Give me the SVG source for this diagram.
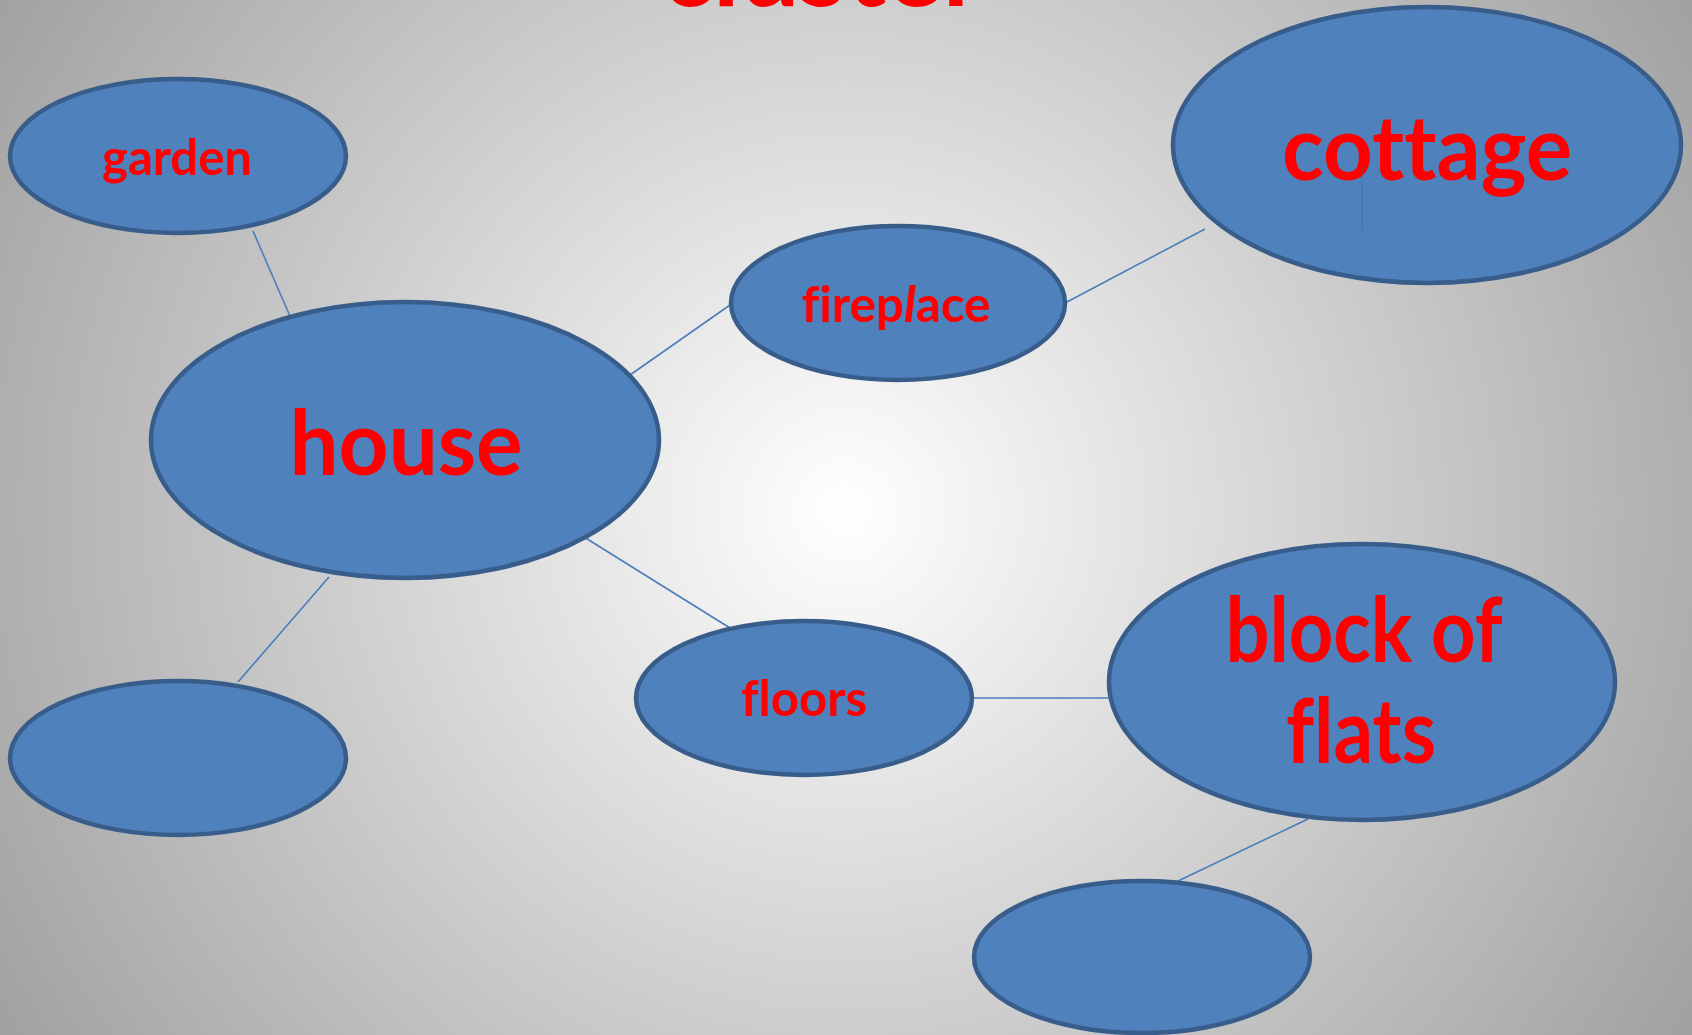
<svg xmlns="http://www.w3.org/2000/svg" width="1692" height="1035" viewBox="0 0 1692 1035">
  <defs>
    <radialGradient id="bg" gradientUnits="userSpaceOnUse" cx="845" cy="510" r="1000">
      <stop offset="0" stop-color="#ffffff"/>
      <stop offset="1" stop-color="#a0a0a0"/>
    </radialGradient>
  </defs>
  <style>
    .node { fill: #4f81bd; stroke: #385d8a; stroke-width: 4.5; }
    .lbl { font-family: Lato, "Open Sans", "Liberation Sans", sans-serif; font-weight: bold; fill: #ff0000; text-anchor: middle; font-variant-ligatures: none; font-feature-settings: "liga" 0; }
    .sm { font-size: 50px; }
    .lg { font-size: 90px; }
    .conn line { stroke: #4a7ebb; stroke-width: 1.6; }
  </style>
  <rect x="0" y="0" width="1692" height="1035" fill="url(#bg)"/>
  <g id="title">
    <text class="lbl" x="822" y="6" font-size="110" textLength="321" lengthAdjust="spacingAndGlyphs">cluster</text>
  </g>
  <g id="connectors" class="conn">
    <line x1="253" y1="231" x2="296" y2="330"/>
    <line x1="630" y1="375" x2="730" y2="305"/>
    <line x1="1065" y1="303" x2="1205" y2="229"/>
    <line x1="584" y1="537" x2="730" y2="628"/>
    <line x1="329" y1="577" x2="238" y2="682"/>
    <line x1="972" y1="698" x2="1142" y2="698"/>
    <line x1="1308" y1="819" x2="1176" y2="882"/>
  </g>
  <g id="garden">
    <ellipse class="node" cx="178" cy="156" rx="168" ry="77"/>
    <text class="lbl sm" x="177" y="175" textLength="150" lengthAdjust="spacingAndGlyphs">garden</text>
  </g>
  <g id="house">
    <ellipse class="node" cx="405" cy="440" rx="254" ry="138"/>
    <text class="lbl lg" x="406" y="475" textLength="233" lengthAdjust="spacingAndGlyphs">house</text>
  </g>
  <g id="fireplace">
    <ellipse class="node" cx="898" cy="303" rx="167" ry="77"/>
    <text class="lbl sm" x="896" y="322" textLength="189" lengthAdjust="spacingAndGlyphs">firep<tspan font-style="italic">l</tspan>ace</text>
  </g>
  <g id="cottage">
    <ellipse class="node" cx="1427" cy="145" rx="254" ry="138"/>
    <text class="lbl lg" x="1427" y="180" textLength="290" lengthAdjust="spacingAndGlyphs">cottage</text>
    <line x1="1362" y1="168" x2="1362" y2="230" stroke="#3d679a" stroke-width="1" opacity="0.6"/>
  </g>
  <g id="floors">
    <ellipse class="node" cx="804" cy="698" rx="168" ry="77"/>
    <text class="lbl sm" x="804" y="716" textLength="126" lengthAdjust="spacingAndGlyphs">floors</text>
  </g>
  <g id="block-of-flats">
    <ellipse class="node" cx="1362" cy="682" rx="253" ry="138"/>
    <text class="lbl lg" x="1364" y="662" textLength="277" lengthAdjust="spacingAndGlyphs">block of</text>
    <text class="lbl lg" x="1361" y="763" textLength="150" lengthAdjust="spacingAndGlyphs">flats</text>
  </g>
  <g id="empty-left">
    <ellipse class="node" cx="178" cy="758" rx="168" ry="77"/>
  </g>
  <g id="empty-bottom">
    <ellipse class="node" cx="1142" cy="957" rx="168" ry="76"/>
  </g>
</svg>
